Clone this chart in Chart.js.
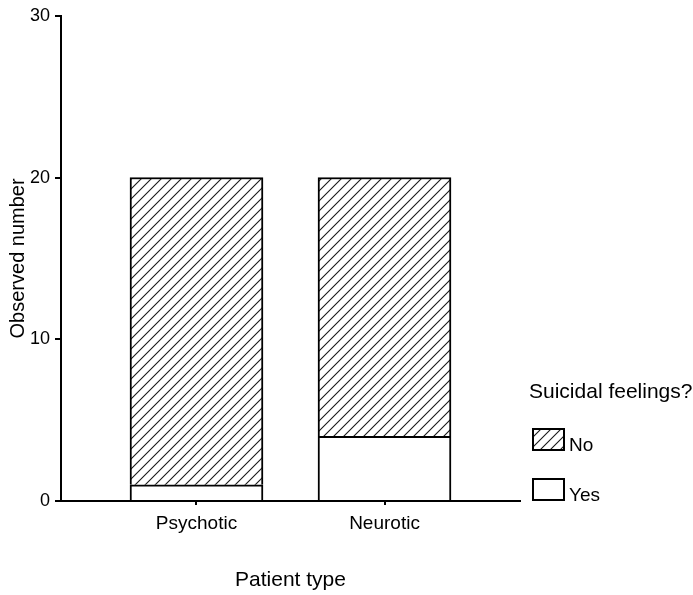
<!DOCTYPE html>
<html>
<head>
<meta charset="utf-8">
<script src="https://cdn.jsdelivr.net/npm/chart.js@4/dist/chart.umd.min.js"></script>
<style>
html,body{margin:0;padding:0;background:#fff;}
canvas{display:block;}
</style>
</head>
<body>
<canvas id="c" width="693" height="595"></canvas>
<script>
// ---- data ----
const categories = ['Psychotic', 'Neurotic'];
const categoryPositions = [0, 1];
const yesValues = [1, 4];
const noValues = [19, 16];
const yTicks = [0, 10, 20, 30];
const seriesLabels = ['Yes', 'No'];
const legendTitle = 'Suicidal feelings?';
const xTitle = 'Patient type';
const yTitle = 'Observed number';

const FONT = '"Liberation Sans", Arial, Helvetica, sans-serif';

function hatchPattern() {
  const c = document.createElement('canvas');
  c.width = 10; c.height = 10;
  const g = c.getContext('2d');
  g.fillStyle = '#fff';
  g.fillRect(0, 0, 10, 10);
  g.strokeStyle = '#1a1a1a';
  g.lineWidth = 1.1;
  g.beginPath();
  g.moveTo(-1, 11); g.lineTo(11, -1);
  g.moveTo(-6, 6); g.lineTo(6, -6);
  g.moveTo(4, 16); g.lineTo(16, 4);
  g.stroke();
  return g.createPattern(c, 'repeat');
}
const hatch = hatchPattern();

const legendPlugin = {
  id: 'customLegend',
  afterDraw(chart) {
    const ctx = chart.ctx;
    ctx.save();
    ctx.fillStyle = '#000';
    ctx.textAlign = 'left';
    ctx.textBaseline = 'alphabetic';
    ctx.font = '21px ' + FONT;
    ctx.fillText(legendTitle, 529, 398);
    const ds = chart.data.datasets.slice().reverse();
    ds.forEach((d, i) => {
      const y = 429 + i * 50;
      ctx.fillStyle = d.backgroundColor;
      ctx.fillRect(533, y, 31, 21);
      ctx.lineWidth = 2;
      ctx.strokeStyle = '#000';
      ctx.strokeRect(533, y, 31, 21);
      ctx.fillStyle = '#000';
      ctx.font = '19px ' + FONT;
      ctx.fillText(d.label, 569, y + 22);
    });
    ctx.restore();
  }
};

new Chart(document.getElementById('c'), {
  type: 'bar',
  data: {
    datasets: [
      {
        label: seriesLabels[0],
        data: categoryPositions.map((x, i) => ({x: x, y: yesValues[i]})),
        backgroundColor: '#ffffff',
        borderColor: '#000',
        borderWidth: 2,
        barThickness: 133
      },
      {
        label: seriesLabels[1],
        data: categoryPositions.map((x, i) => ({x: x, y: noValues[i]})),
        backgroundColor: hatch,
        borderColor: '#000',
        borderWidth: 2,
        barThickness: 133
      }
    ]
  },
  options: {
    responsive: false,
    animation: false,
    layout: {padding: {top: 12, right: 173, bottom: 0, left: 0}},
    plugins: {legend: {display: false}, tooltip: {enabled: false}},
    scales: {
      x: {
        type: 'linear',
        stacked: true,
        offset: false,
        min: -0.7207,
        max: 1.7207,
        afterBuildTicks(scale) {
          scale.ticks = categoryPositions.map(v => ({value: v}));
        },
        afterFit(scale) { scale.height = 94; },
        ticks: {
          autoSkip: false,
          maxRotation: 0,
          padding: 7,
          color: '#000',
          font: {family: FONT, size: 19},
          callback: (v) => categories[categoryPositions.indexOf(v)] ?? ''
        },
        grid: {offset: false, drawOnChartArea: false, drawTicks: true, tickLength: 4, color: '#000', lineWidth: 2},
        border: {display: true, color: '#000', width: 2},
        title: {display: true, text: xTitle, color: '#000', font: {family: FONT, size: 21}, padding: {top: 0, bottom: 2}}
      },
      y: {
        stacked: true,
        min: 0,
        max: 30,
        afterBuildTicks(scale) {
          scale.ticks = yTicks.map(v => ({value: v}));
        },
        afterFit(scale) { scale.width = 61; },
        ticks: {
          padding: 5,
          color: '#000',
          font: {family: FONT, size: 18}
        },
        grid: {drawOnChartArea: false, drawTicks: true, tickLength: 6, color: '#000', lineWidth: 2},
        border: {display: true, color: '#000', width: 2},
        title: {display: true, text: yTitle, color: '#000', font: {family: FONT, size: 20}, padding: {top: 6, bottom: 0}}
      }
    }
  },
  plugins: [legendPlugin]
});
</script>
</body>
</html>
